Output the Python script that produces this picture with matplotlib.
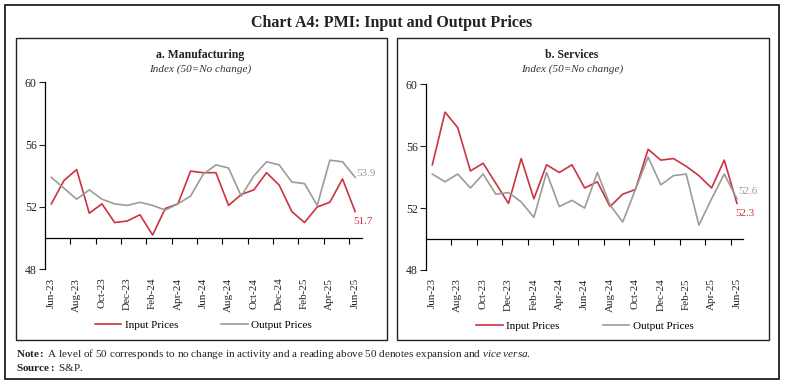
import matplotlib
matplotlib.use("Agg")
import matplotlib.pyplot as plt
from matplotlib.patches import Rectangle

plt.rcParams['font.family'] = ['Liberation Serif', 'DejaVu Serif']
plt.rcParams['mathtext.fontset'] = 'custom'
plt.rcParams['mathtext.rm'] = 'Liberation Serif'
plt.rcParams['mathtext.bf'] = 'Liberation Serif:bold'
plt.rcParams['mathtext.it'] = 'Liberation Serif:italic'

# months Jun-23 .. Jun-25
months = ["Jun-23", "Jul-23", "Aug-23", "Sep-23", "Oct-23", "Nov-23", "Dec-23",
          "Jan-24", "Feb-24", "Mar-24", "Apr-24", "May-24", "Jun-24", "Jul-24",
          "Aug-24", "Sep-24", "Oct-24", "Nov-24", "Dec-24", "Jan-25", "Feb-25",
          "Mar-25", "Apr-25", "May-25", "Jun-25"]

mfg_input = [52.2, 53.7, 54.4, 51.6, 52.2, 51.0, 51.1, 51.5, 50.2, 51.9, 52.2, 54.3,
             54.2, 54.2, 52.1, 52.8, 53.1, 54.2, 53.4, 51.7, 51.0, 52.0, 52.3, 53.8, 51.7]
mfg_output = [53.9, 53.2, 52.5, 53.1, 52.5, 52.2, 52.1, 52.3, 52.1, 51.8, 52.2, 52.7,
              54.1, 54.7, 54.5, 52.7, 54.0, 54.9, 54.7, 53.6, 53.5, 52.1, 55.0, 54.9, 53.9]

svc_input = [54.8, 58.2, 57.2, 54.4, 54.9, 53.6, 52.3, 55.2, 52.6, 54.8, 54.3, 54.8,
             53.3, 53.7, 52.1, 52.9, 53.2, 55.8, 55.1, 55.2, 54.7, 54.1, 53.3, 55.1, 52.3]
svc_output = [54.2, 53.7, 54.2, 53.3, 54.2, 52.9, 53.0, 52.4, 51.4, 54.3, 52.1, 52.5,
              52.0, 54.3, 52.2, 51.1, 53.2, 55.3, 53.5, 54.1, 54.2, 50.9, 52.6, 54.2, 52.6]

RED = "#CC3340"
GREY = "#9B9B9B"

W, H = 785, 385
fig = plt.figure(figsize=(W / 100, H / 100), dpi=100)


def box(x0, y0, x1, y1, lw):
    # pixel coords (top-left origin) -> figure fraction rectangle
    fig.patches.append(Rectangle((x0 / W, 1 - y1 / H), (x1 - x0) / W, (y1 - y0) / H,
                                 transform=fig.transFigure, fill=False,
                                 edgecolor="#222222", linewidth=lw))


box(5, 5, 779, 379, 1.3)
box(15.7, 38.3, 386.7, 340, 1.0)
box(397.3, 38.3, 769, 340, 1.0)

fig.text(392 / W, 1 - 23 / H, "Chart A4: PMI: Input and Output Prices",
         ha="center", va="center", fontsize=11.5, fontweight="bold", color="#222222")


def panel(rect, title, cx, inp, out, in_lab_y, out_lab_y):
    x0, top, x1, bot = rect
    ax = fig.add_axes([x0 / W, 1 - bot / H, (x1 - x0) / W, (bot - top) / H])
    idx = list(range(len(months)))
    ax.plot(idx, inp, color=RED, lw=1.2, label="Input Prices", clip_on=False)
    ax.plot(idx, out, color=GREY, lw=1.2, label="Output Prices", clip_on=False)
    ax.set_xlim(-0.5, len(months) - 0.5)
    ax.set_ylim(48, 60)
    ax.set_yticks([48, 52, 56, 60])
    ax.tick_params(axis="y", direction="out", length=4, width=0.8, labelsize=8.5,
                   colors="#222222", pad=2)
    for s in ("top", "right"):
        ax.spines[s].set_visible(False)
    ax.spines["left"].set_linewidth(0.9)
    ax.spines["bottom"].set_position(("data", 50))
    ax.spines["bottom"].set_linewidth(0.9)
    ax.set_xticks([i + 0.5 for i in range(1, len(months) - 1, 2)])
    ax.tick_params(axis="x", direction="out", length=4, width=0.8, labelbottom=False)
    sec = ax.secondary_xaxis(0)
    sec.set_xticks(idx[::2])
    sec.set_xticklabels(months[::2], rotation=90, fontsize=8, color="#222222")
    sec.tick_params(length=0, pad=6)
    sec.spines["bottom"].set_visible(False)
    ax.patch.set_visible(False)

    fig.text(cx / W, 1 - 55 / H, title, ha="center", va="center", fontsize=8.5,
             fontweight="bold", color="#222222")
    fig.text(cx / W, 1 - 69 / H, "Index (50=No change)", ha="center", va="center",
             fontsize=8, style="italic", color="#333333")

    ax.annotate(f"{out[-1]:.1f}", (idx[-1], out[-1]), xytext=(1, out_lab_y),
                textcoords="offset points", color=GREY, fontsize=8, ha="left", va="center")
    ax.annotate(f"{inp[-1]:.1f}", (idx[-1], inp[-1]), xytext=(-1, in_lab_y),
                textcoords="offset points", color=RED, fontsize=8, ha="left", va="center")

    ax.legend(loc="upper center", bbox_to_anchor=(0.5, -0.22), ncol=2, frameon=False,
              fontsize=8, handlelength=2.4, columnspacing=3.9, handletextpad=0.3)
    return ax


panel((45, 82.3, 361.5, 269.3), "a. Manufacturing", 200.5,
      mfg_input, mfg_output, -7, 3)
panel((426, 84.3, 743.3, 270), "b. Services", 571.7,
      svc_input, svc_output, -7, 5)

fig.text(15.7 / W, 1 - 354 / H,
         r"$\bf{Note:}$ A level of 50 corresponds to no change in activity and a reading above 50 denotes expansion and $\it{vice\ versa}$.",
         ha="left", va="center", fontsize=8, color="#222222")
fig.text(15.7 / W, 1 - 367.5 / H, r"$\bf{Source:}$ S&P.", ha="left", va="center",
         fontsize=8, color="#222222")

fig.savefig("out.png", dpi=100)
